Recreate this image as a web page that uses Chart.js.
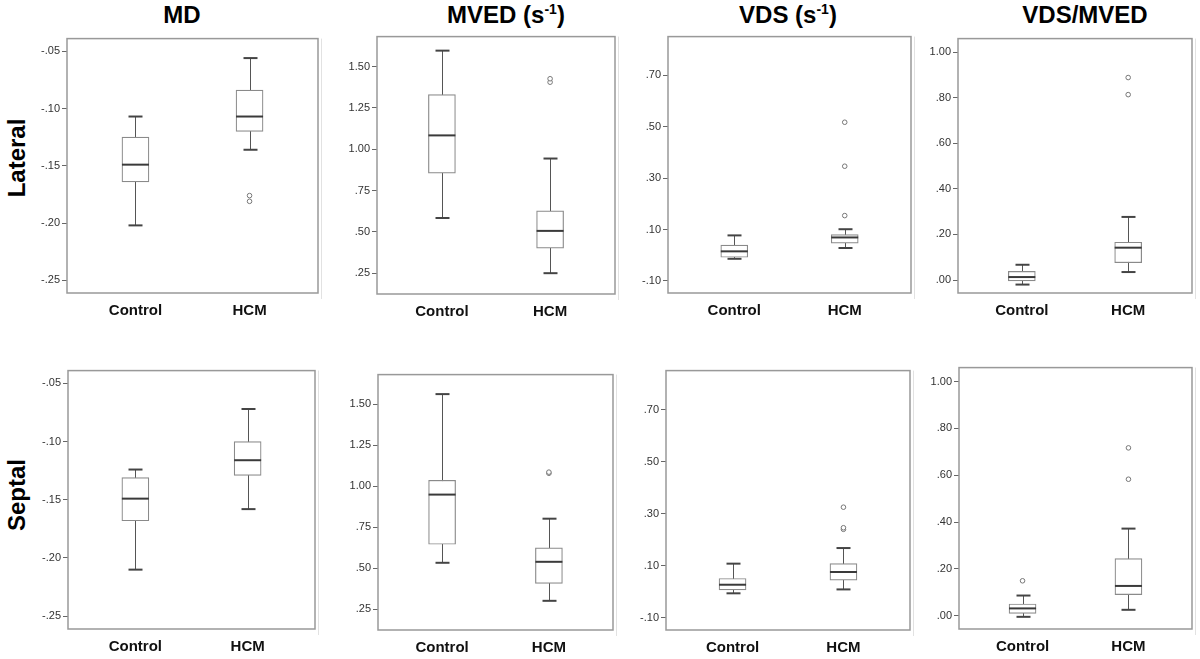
<!DOCTYPE html>
<html>
<head>
<title>MD / MVED / VDS box plots</title>
<script src="https://cdn.jsdelivr.net/npm/chart.js@4.4.0/dist/chart.umd.min.js"></script>
<style>
    body { margin: 0; background: #fff; font-family: Arial, "Liberation Sans", sans-serif; }
    #page { position: relative; width: 1200px; height: 659px; overflow: hidden; }
    .col-title {
        position: absolute; top: 0; font-weight: bold; font-size: 24px; line-height: 30px;
        transform: translateX(-50%); white-space: nowrap; color: #000;
    }
    .col-title sup { font-size: 14px; vertical-align: 9px; line-height: 0; }
    .row-title {
        position: absolute; font-weight: bold; font-size: 24px; line-height: 24px; white-space: nowrap;
        transform: translate(-50%, -50%) rotate(-90deg); color: #000;
    }
    .panel { position: absolute; }
</style>
</head>
<body>
<div id="page">
    <div class="col-title" style="left:182px">MD</div>
    <div class="col-title" style="left:506px">MVED (s<sup>-1</sup>)</div>
    <div class="col-title" style="left:788px">VDS (s<sup>-1</sup>)</div>
    <div class="col-title" style="left:1085px">VDS/MVED</div>
    <div class="row-title" style="left:17px; top:158px">Lateral</div>
    <div class="row-title" style="left:17px; top:495px">Septal</div>
</div>

<script>
    const groups = ['Control', 'HCM'];

    // five-number summaries per group: [min, q1, median, q3, max]
    const mdLat = [[-0.202, -0.164, -0.149, -0.125, -0.107], [-0.136, -0.120, -0.107, -0.084, -0.056]];
    const mdLatOut = [[], [-0.176, -0.181]];
    const mvedLat = [[0.584, 0.856, 1.084, 1.331, 1.597], [0.250, 0.402, 0.506, 0.627, 0.944]];
    const mvedLatOut = [[], [1.406, 1.427]];
    const vdsLat = [[-0.014, -0.008, 0.015, 0.039, 0.077], [0.028, 0.047, 0.069, 0.080, 0.101]];
    const vdsLatOut = [[], [0.154, 0.346, 0.517]];
    const ratioLat = [[-0.020, -0.004, 0.013, 0.038, 0.067], [0.035, 0.076, 0.142, 0.166, 0.277]];
    const ratioLatOut = [[], [0.814, 0.889]];

    const mdSep = [[-0.210, -0.168, -0.149, -0.131, -0.124], [-0.158, -0.129, -0.116, -0.100, -0.072]];
    const mdSepOut = [[], []];
    const mvedSep = [[0.534, 0.647, 0.950, 1.037, 1.563], [0.302, 0.408, 0.540, 0.625, 0.803]];
    const mvedSepOut = [[], [1.080, 1.087]];
    const vdsSep = [[-0.006, 0.007, 0.027, 0.051, 0.108], [0.009, 0.045, 0.076, 0.108, 0.168]];
    const vdsSepOut = [[], [0.240, 0.246, 0.325]];
    const ratioSep = [[-0.005, 0.010, 0.031, 0.050, 0.086], [0.025, 0.090, 0.127, 0.244, 0.372]];
    const ratioSepOut = [[0.149], [0.583, 0.717]];

    // y tick labels and axis ranges
    const mdTicks = [-0.25, -0.20, -0.15, -0.10, -0.05];
    const mvedTicks = [0.25, 0.50, 0.75, 1.00, 1.25, 1.50];
    const vdsTicks = [-0.10, 0.10, 0.30, 0.50, 0.70];
    const ratioTicks = [0.00, 0.20, 0.40, 0.60, 0.80, 1.00];
    const mdRange = [-0.261, -0.039];
    const mvedRange = [0.124, 1.682];
    const vdsRange = [-0.147, 0.850];
    const ratioRange = [-0.057, 1.060];

    const AXIS_W = 55, AXIS_H = 36, PAD_T = 2, PAD_R = 8;

    function fmt(v) {
        return v.toFixed(2).replace(/^(-?)0\./, '$1.');
    }

    function boxPlugin(stats) {
        return {
            id: 'boxes',
            beforeDatasetsDraw(chart) {
                const { ctx, scales: { x, y } } = chart;
                ctx.save();
                stats.forEach((s, i) => {
                    const cx = Math.round(x.getPixelForValue(i)) + 0.5;
                    ctx.strokeStyle = '#555';
                    ctx.lineWidth = 1;
                    ctx.beginPath();
                    ctx.moveTo(cx, y.getPixelForValue(s[0]));
                    ctx.lineTo(cx, y.getPixelForValue(s[4]));
                    ctx.stroke();
                    ctx.strokeStyle = '#444';
                    ctx.lineWidth = 2;
                    [s[0], s[4]].forEach(v => {
                        const py = y.getPixelForValue(v);
                        ctx.beginPath();
                        ctx.moveTo(cx - 7, py);
                        ctx.lineTo(cx + 7, py);
                        ctx.stroke();
                    });
                });
                ctx.restore();
            },
            afterDatasetsDraw(chart) {
                const { ctx, scales: { x, y } } = chart;
                ctx.save();
                ctx.strokeStyle = '#3a3a3a';
                ctx.lineWidth = 2;
                stats.forEach((s, i) => {
                    const cx = x.getPixelForValue(i);
                    const py = y.getPixelForValue(s[2]);
                    ctx.beginPath();
                    ctx.moveTo(cx - 13.5, py);
                    ctx.lineTo(cx + 13.5, py);
                    ctx.stroke();
                });
                ctx.restore();
            },
            afterDraw(chart) {
                const { ctx, chartArea: a } = chart;
                ctx.save();
                ctx.strokeStyle = '#999';
                ctx.lineWidth = 1.5;
                ctx.strokeRect(a.left, a.top, a.right - a.left, a.bottom - a.top);
                // faint shadow line right of the frame
                ctx.strokeStyle = '#e2e2e2';
                ctx.lineWidth = 1;
                ctx.beginPath();
                ctx.moveTo(a.right + 3.5, a.top);
                ctx.lineTo(a.right + 3.5, a.bottom + 6);
                ctx.stroke();
                ctx.restore();
            }
        };
    }

    function makePanel(box, stats, outliers, ticks, range) {
        const [left, top, right, bottom] = box;
        const canvas = document.createElement('canvas');
        canvas.className = 'panel';
        canvas.width = AXIS_W + (right - left) + PAD_R;
        canvas.height = PAD_T + (bottom - top) + AXIS_H;
        canvas.style.left = (left - AXIS_W) + 'px';
        canvas.style.top = (top - PAD_T) + 'px';
        document.getElementById('page').appendChild(canvas);

        const outPoints = [];
        outliers.forEach((arr, i) => arr.forEach(v => outPoints.push({ x: i, y: v })));

        new Chart(canvas.getContext('2d'), {
            type: 'bar',
            data: {
                datasets: [{
                    type: 'bar',
                    data: stats.map((s, i) => ({ x: i, y: [s[1], s[3]] })),
                    backgroundColor: '#fff',
                    borderColor: '#8a8a8a',
                    borderWidth: 1.2,
                    borderSkipped: false,
                    barThickness: 27
                }, {
                    type: 'scatter',
                    data: outPoints,
                    pointRadius: 2.3,
                    pointBorderColor: '#777',
                    pointBackgroundColor: '#fff',
                    pointBorderWidth: 1
                }]
            },
            options: {
                responsive: false,
                animation: false,
                layout: { padding: { top: PAD_T, right: PAD_R, left: 0, bottom: 0 } },
                plugins: { legend: { display: false }, tooltip: { enabled: false } },
                scales: {
                    x: {
                        type: 'linear',
                        offset: false,
                        min: -0.6,
                        max: 1.6,
                        afterBuildTicks: s => { s.ticks = groups.map((g, i) => ({ value: i })); },
                        afterFit: s => { s.height = AXIS_H; },
                        grid: { display: false, drawTicks: false },
                        border: { display: false },
                        ticks: {
                            callback: v => groups[v],
                            font: { family: 'Arial', size: 15, weight: 'bold' },
                            color: '#111',
                            padding: 9,
                            maxRotation: 0
                        }
                    },
                    y: {
                        min: range[0],
                        max: range[1],
                        afterBuildTicks: s => { s.ticks = ticks.map(v => ({ value: v })); },
                        afterFit: s => { s.width = AXIS_W; },
                        grid: { drawOnChartArea: false, drawTicks: true, tickLength: 5, color: '#666' },
                        border: { display: false },
                        ticks: {
                            callback: v => fmt(v),
                            font: { family: 'Arial', size: 11 },
                            color: '#333',
                            padding: 2
                        }
                    }
                }
            },
            plugins: [boxPlugin(stats)]
        });
    }

    makePanel([67, 32, 318, 293], mdLat, mdLatOut, mdTicks, mdRange);
    makePanel([377, 30, 615, 294], mvedLat, mvedLatOut, mvedTicks, mvedRange);
    makePanel([668, 30, 911, 293], vdsLat, vdsLatOut, vdsTicks, vdsRange);
    makePanel([958, 32, 1192, 293], ratioLat, ratioLatOut, ratioTicks, ratioRange);

    makePanel([68, 364, 315, 629], mdSep, mdSepOut, mdTicks, mdRange);
    makePanel([378, 368, 613, 630], mvedSep, mvedSepOut, mvedTicks, mvedRange);
    makePanel([666, 364, 910, 630], vdsSep, vdsSepOut, vdsTicks, vdsRange);
    makePanel([959, 361, 1192, 629], ratioSep, ratioSepOut, ratioTicks, ratioRange);
</script>
</body>
</html>
